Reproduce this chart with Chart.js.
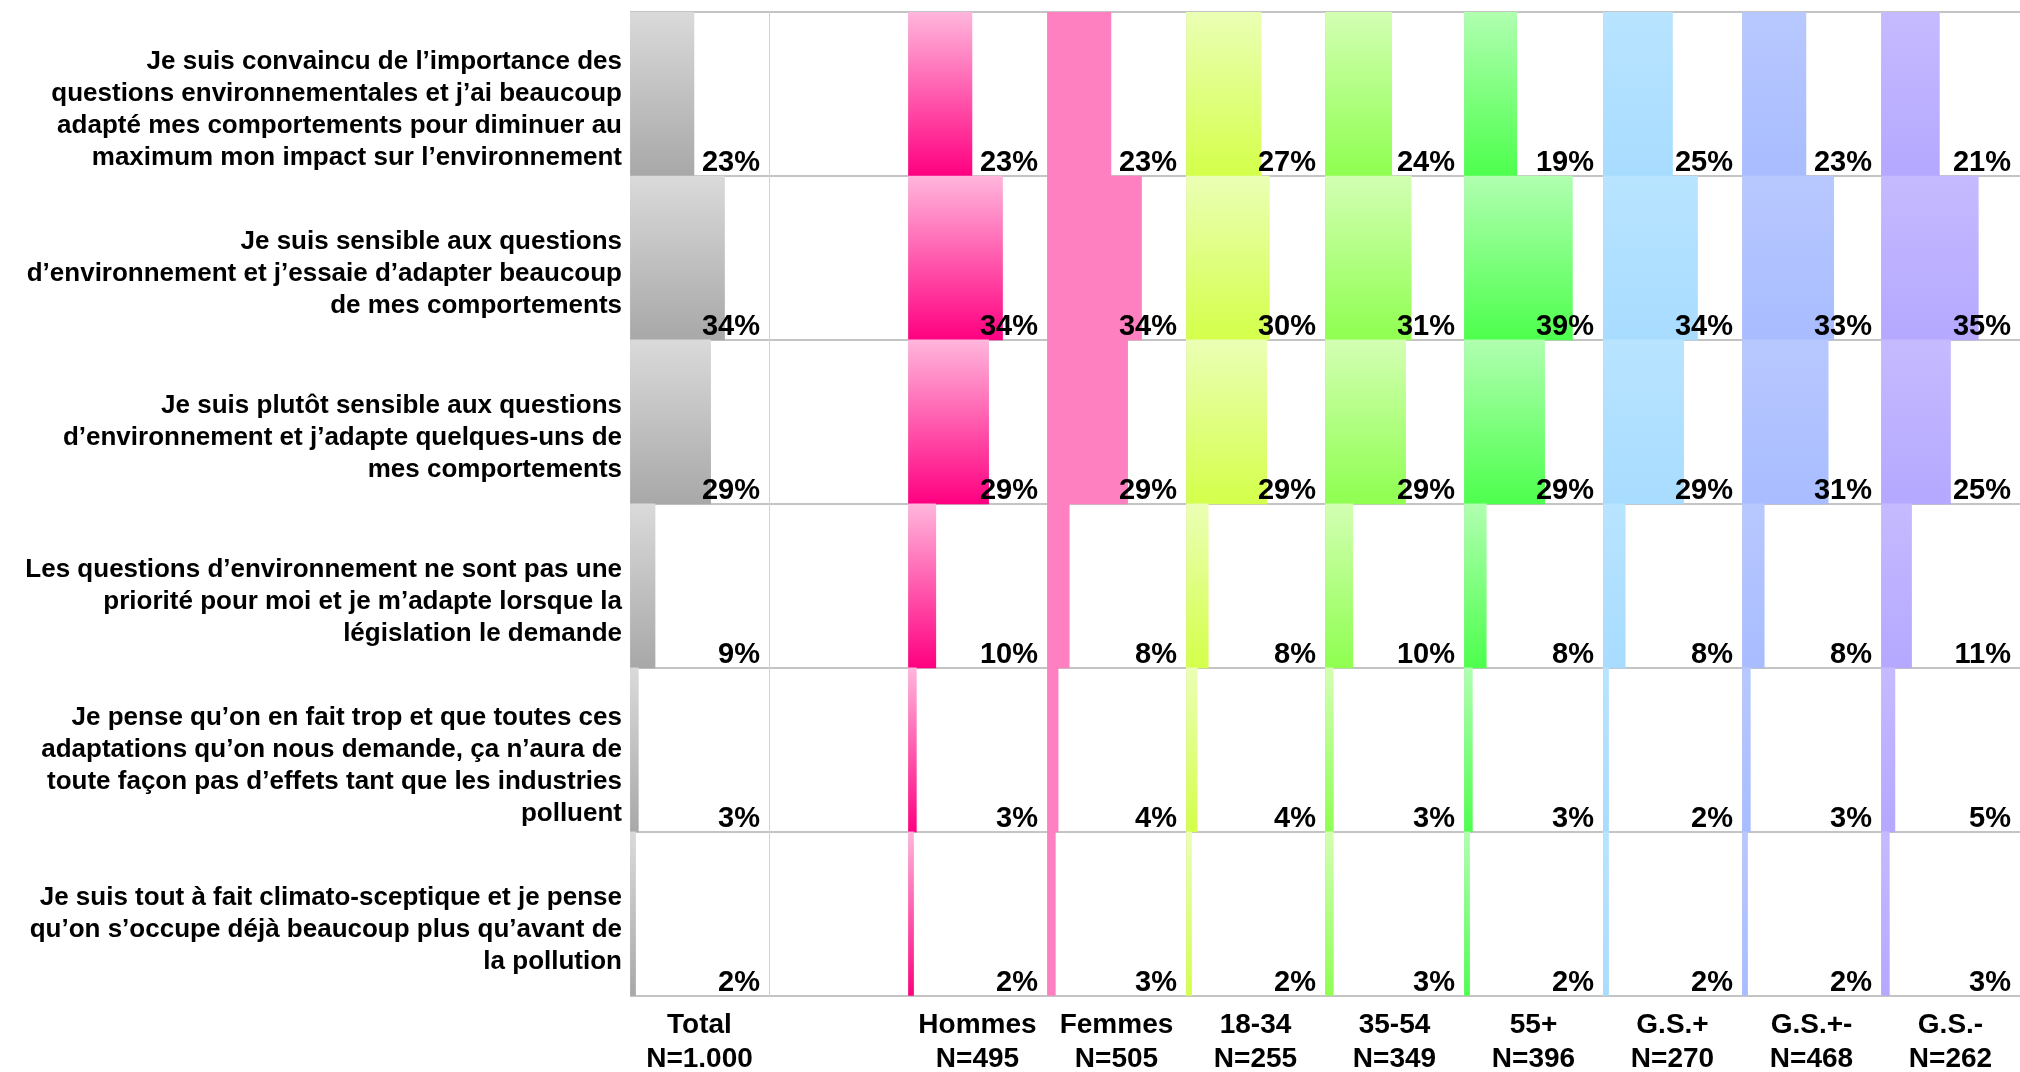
<!DOCTYPE html>
<html>
<head>
<meta charset="utf-8">
<script src="https://cdn.jsdelivr.net/npm/chart.js@4"></script>
<style>
  body { margin: 0; background: #fff; }
  canvas { display: block; }
</style>
</head>
<body>
<canvas id="chart" width="2020" height="1072"></canvas>
<script>
// Row labels (answers)
const rowLabels = [
  ['Je suis convaincu de l’importance des', 'questions environnementales et j’ai beaucoup', 'adapté mes comportements pour diminuer au', 'maximum mon impact sur l’environnement'],
  ['Je suis sensible aux questions', 'd’environnement et j’essaie d’adapter beaucoup', 'de mes comportements'],
  ['Je suis plutôt sensible aux questions', 'd’environnement et j’adapte quelques-uns de', 'mes comportements'],
  ['Les questions d’environnement ne sont pas une', 'priorité pour moi et je m’adapte lorsque la', 'législation le demande'],
  ['Je pense qu’on en fait trop et que toutes ces', 'adaptations qu’on nous demande, ça n’aura de', 'toute façon pas d’effets tant que les industries', 'polluent'],
  ['Je suis tout à fait climato-sceptique et je pense', 'qu’on s’occupe déjà beaucoup plus qu’avant de', 'la pollution']
];

// Column headers ('' = empty spacer column)
const groupNames  = ['Total', '', 'Hommes', 'Femmes', '18-34', '35-54', '55+', 'G.S.+', 'G.S.+-', 'G.S.-'];
const sampleSizes = ['N=1.000', '', 'N=495', 'N=505', 'N=255', 'N=349', 'N=396', 'N=270', 'N=468', 'N=262'];

// Values in % per group
const totalValues   = [23, 34, 29, 9, 3, 2];
const hommesValues  = [23, 34, 29, 10, 3, 2];
const femmesValues  = [23, 34, 29, 8, 4, 3];
const age1834Values = [27, 30, 29, 8, 4, 2];
const age3554Values = [24, 31, 29, 10, 3, 3];
const age55Values   = [19, 39, 29, 8, 3, 2];
const gsPlusValues  = [25, 34, 29, 8, 2, 2];
const gsMidValues   = [23, 33, 31, 8, 3, 2];
const gsMinusValues = [21, 35, 25, 11, 5, 3];

// gradient colours per column (top -> bottom)
const gradTop    = ['#dadada', null, '#ffb6dc', '#ff80c0', '#ebffb5', '#d3ffb3', '#b0ffb0', '#b8e4ff', '#b8c8ff', '#c6baff'];
const gradBottom = ['#a8a8a8', null, '#ff0080', '#ff80c0', '#d4ff4a', '#8fff50', '#4dff4d', '#a8dcff', '#a8bcff', '#b4a8ff'];

const columnValues = [totalValues, null, hommesValues, femmesValues, age1834Values, age3554Values, age55Values, gsPlusValues, gsMidValues, gsMinusValues];

const FONT = '"Liberation Sans", Arial, sans-serif';

function barGradient(top, bottom) {
  return (context) => {
    const chart = context.chart;
    if (!chart.chartArea || context.dataIndex === undefined) return bottom;
    const y = chart.scales.y;
    const half = (y.getPixelForValue(1) - y.getPixelForValue(0)) / 2;
    const c = y.getPixelForValue(context.dataIndex);
    const g = chart.ctx.createLinearGradient(0, c - half, 0, c + half);
    g.addColorStop(0, top);
    g.addColorStop(1, bottom);
    return g;
  };
}

const scales = {
  y: {
    type: 'category',
    position: 'left',
    grid: { offset: true, color: '#c4c4c4', lineWidth: 2, drawTicks: false },
    border: { display: false },
    ticks: {
      color: '#000',
      font: { family: FONT, size: 26, weight: 'bold', lineHeight: 1.23 },
      padding: 8,
      labelOffset: 16
    },
    afterFit: (scale) => {
      scale.width = 630;
      // labels stay inside their rows, no extra room needed
      scale.paddingTop = 0;
      scale.paddingBottom = 0;
    }
  }
};

const datasets = [];

groupNames.forEach((name, i) => {
  const id = 'x' + i;
  scales[id] = {
    type: 'linear',
    position: 'bottom',
    stack: 'cols',
    stackWeight: 1,
    min: 0,
    max: 50,
    ticks: { display: false, stepSize: 50 },
    grid: { color: '#d2d2d2', lineWidth: 1, drawTicks: false },
    border: { display: false },
    title: {
      display: true,
      text: name ? [name, sampleSizes[i]] : ['', ''],
      color: '#000',
      font: { family: FONT, size: 28, weight: 'bold', lineHeight: 1.2 },
      padding: { top: 13, bottom: -4 }
    }
  };
  if (columnValues[i]) {
    datasets.push({
      label: name,
      data: columnValues[i],
      xAxisID: id,
      yAxisID: 'y',
      backgroundColor: barGradient(gradTop[i], gradBottom[i]),
      borderWidth: 0,
      categoryPercentage: 1,
      barPercentage: 1,
      grouped: false
    });
  }
});

// percentage labels at the bottom right of every cell
const valueLabels = {
  id: 'valueLabels',
  afterDatasetsDraw(chart) {
    const ctx = chart.ctx;
    ctx.save();
    ctx.font = 'bold 29px ' + FONT;
    ctx.fillStyle = '#000';
    ctx.textAlign = 'right';
    ctx.textBaseline = 'alphabetic';
    chart.data.datasets.forEach((ds, i) => {
      const meta = chart.getDatasetMeta(i);
      const xs = chart.scales[ds.xAxisID];
      meta.data.forEach((bar, j) => {
        const bottom = bar.y + bar.height / 2;
        ctx.fillText(ds.data[j] + '%', xs.right - 9, bottom - 5);
      });
    });
    ctx.restore();
  }
};

new Chart(document.getElementById('chart'), {
  type: 'bar',
  data: { labels: rowLabels, datasets },
  options: {
    indexAxis: 'y',
    responsive: false,
    animation: false,
    layout: { padding: { top: 12, right: -4, bottom: 0, left: 0 } },
    plugins: {
      legend: { display: false },
      tooltip: { enabled: false }
    },
    scales
  },
  plugins: [valueLabels]
});
</script>
</body>
</html>
